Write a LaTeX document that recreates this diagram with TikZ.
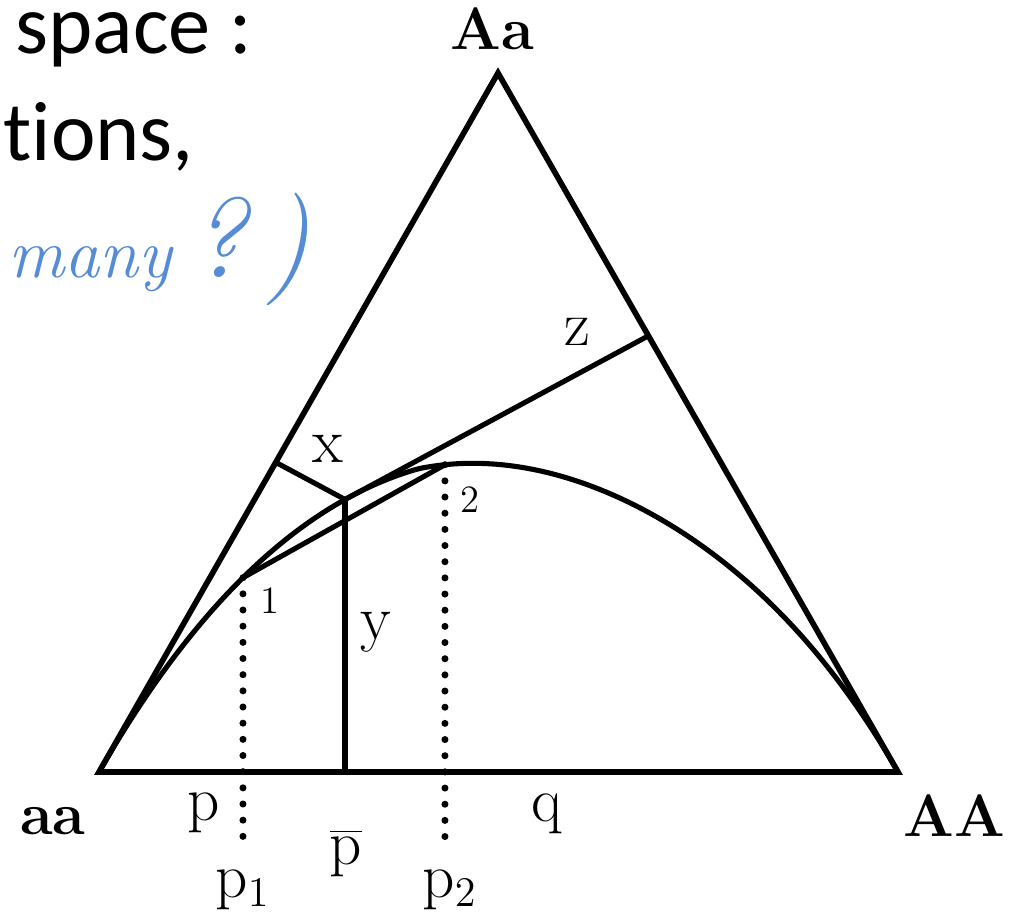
\documentclass[tikz,border=0pt]{standalone}
\usepackage{fontspec}
\usetikzlibrary{calc}
\newfontfamily\slidefont[Ligatures=NoCommon]{Carlito}
\definecolor{inkblue}{RGB}{86,140,214}
\tikzset{
  side/.style={line width=1.6pt},
  lbl/.style={font=\fontsize{18}{20}\selectfont},
  vlbl/.style={font=\fontsize{17}{20}\selectfont\bfseries},
  numlbl/.style={font=\fontsize{11}{13}\selectfont},
  dotline/.style={line width=2pt, line cap=round, dash pattern=on 0pt off 4.6pt},
  slidetext/.style={anchor=base west, inner sep=0pt, font=\slidefont\fontsize{24}{29}\selectfont},
}

\begin{document}
\begin{tikzpicture}[line width=1.45pt,
    declare function={hw(\u)=\u*(1-\u)*(2-\u*(1-\u)*(0.8+1.6*max(\u-0.4,0)));}]
   \useasboundingbox (-0.99,-1.44) rectangle (9.14,7.72);
   %slide text
   \node[slidetext] (space) at (-0.86,7.18) {space :};
   \node[slidetext] (tions) at (-0.98,6.11) {tions,};
   \node[anchor=base west, inner sep=0pt, text=inkblue, font=\itshape\fontsize{20}{24}\selectfont] (many) at (-0.93,4.94) {many{\fontsize{32}{34}\selectfont\,?\,)}};
   %corners
   \coordinate (aa) at (0,0);
   \coordinate (AA) at (7.99,0);
   \coordinate (Aa) at (3.99,6.99);
   %points on the curve
   \coordinate (pt1) at ({7.99*0.1802},{6.99*hw(0.1802)});
   \coordinate (P) at ({7.99*0.3079},{6.99*hw(0.3079)});
   \coordinate (pt2) at ({7.99*0.433},{6.99*hw(0.433)});
   %feet
   \coordinate (xfoot) at ($(aa)!0.443!(Aa)$);
   \coordinate (zfoot) at ($(AA)!0.624!(Aa)$);
   \coordinate (yfoot) at (P |- aa);
   \coordinate (d1) at ($(pt1 |- aa)+(0,-0.78)$);
   \coordinate (d2) at ($(pt2 |- aa)+(0,-0.78)$);
   %dotted
   \draw[dotline] (pt1) -- (d1);
   \draw[dotline] (pt2) -- (d2);
   %triangle
   \draw[side] (aa) -- (AA) -- (Aa) -- cycle;
   %curve
   \draw plot[domain=0:1, samples=120, smooth] ({7.99*\x},{6.99*hw(\x)});
   %lines
   \draw (pt1) -- (pt2);
   \draw (P) -- (xfoot);
   \draw (P) -- (zfoot);
   \draw (P) -- (yfoot);
   %labels
   \node[vlbl] (Laa) at (-0.46,-0.49) {aa};
   \node[vlbl] (LAA) at (8.55,-0.44) {AA};
   \node[vlbl] (LAa) at (3.93,7.43) {Aa};
   \node[lbl] (Lp) at (1.05,-0.41) {p};
   \node[lbl] (Lq) at (4.48,-0.42) {q};
   \node[lbl] (Lpbar) at (2.47,-0.81) {$\overline{\mathrm{p}}$};
   \node[lbl] (Lp1) at (1.44,-1.18) {$\mathrm{p}_{1}$};
   \node[lbl] (Lp2) at (3.51,-1.18) {$\mathrm{p}_{2}$};
   \node[lbl] (Lx) at (2.29,3.23) {x};
   \node[lbl] (Ly) at (2.77,1.40) {y};
   \node[lbl] (Lz) at (4.78,4.40) {z};
   \node[numlbl] (L1) at (1.71,1.71) {1};
   \node[numlbl] (L2) at (3.71,2.72) {2};
\end{tikzpicture}
\end{document}
